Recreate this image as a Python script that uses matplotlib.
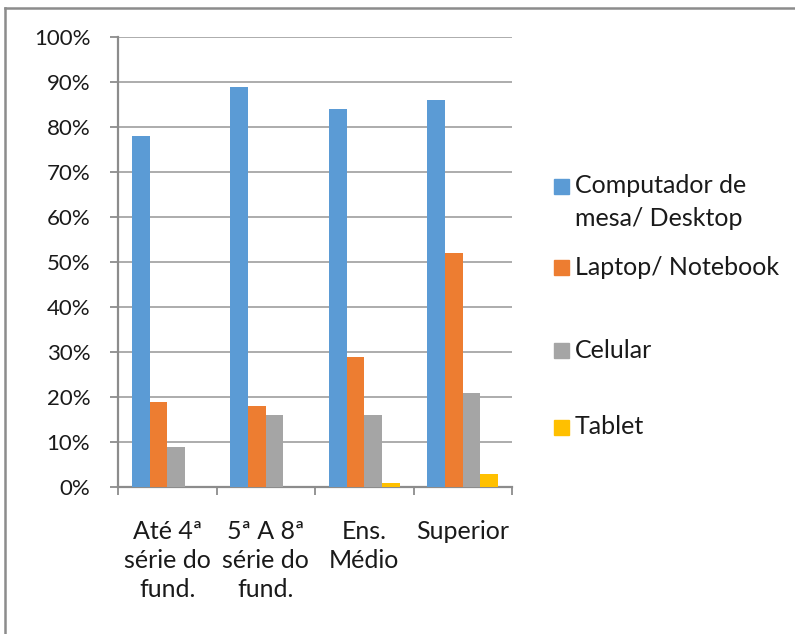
import matplotlib
matplotlib.use("Agg")
import matplotlib.pyplot as plt
from matplotlib.patches import Rectangle
from matplotlib.lines import Line2D
import numpy as np

categories = ["Até 4ª\nsérie do\nfund.", "5ª A 8ª\nsérie do\nfund.", "Ens.\nMédio", "Superior"]
series_names = ["Computador de\nmesa/ Desktop", "Laptop/ Notebook", "Celular", "Tablet"]
desktop = [0.78, 0.89, 0.84, 0.86]
laptop = [0.19, 0.18, 0.29, 0.52]
celular = [0.09, 0.16, 0.16, 0.21]
tablet = [0.00, 0.00, 0.01, 0.03]
yticks = [0.0, 0.1, 0.2, 0.3, 0.4, 0.5, 0.6, 0.7, 0.8, 0.9, 1.0]
ytick_labels = ["0%", "10%", "20%", "30%", "40%", "50%", "60%", "70%", "80%", "90%", "100%"]
colors = ["#5B9BD5", "#ED7D31", "#A5A5A5", "#FFC000"]

plt.rcParams['font.family'] = ['Lato', 'DejaVu Sans']
FS_Y = 16
FS = 18
W, H = 795, 634
fig = plt.figure(figsize=(W / 100, H / 100), dpi=100)
ax = fig.add_axes([118 / W, (H - 487) / H, 394 / W, 450 / H])

data = [desktop, laptop, celular, tablet]
x = np.arange(len(categories)) + 0.5
bw = 0.18
offsets = [-0.27, -0.09, 0.09, 0.27]
for vals, off, c in zip(data, offsets, colors):
    ax.bar(x + off, vals, width=bw, color=c, linewidth=0, zorder=3)

ax.set_xlim(0, len(categories))
ax.set_ylim(0, 1)
ax.set_yticks(yticks)
ax.set_yticklabels(ytick_labels, fontsize=FS_Y, color='#1a1a1a')
ax.yaxis.grid(True, color='#A6A6A6', linewidth=1.3, zorder=0)
ax.set_xticks(np.arange(len(categories) + 1))
ax.set_xticklabels([])
ax.set_xticks(x, minor=True)
ax.set_xticklabels(categories, minor=True, fontsize=FS, color='#1a1a1a', linespacing=1.3, va='top')
ax.tick_params(axis='x', which='minor', length=0, pad=24)
ax.tick_params(axis='x', which='major', length=6, width=1.3, color='#8C8C8C', direction='out')
ax.tick_params(axis='y', length=6, width=1.3, color='#8C8C8C', direction='out', pad=14)
for s in ['top', 'right']:
    ax.spines[s].set_visible(False)
for s in ['left', 'bottom']:
    ax.spines[s].set_color('#8C8C8C')
    ax.spines[s].set_linewidth(1.6)

# Legend (manual, Excel-like)
marker_y = [186, 267, 350, 427]
for name, c, my in zip(series_names, colors, marker_y):
    fig.add_artist(Rectangle((554 / W, (H - my - 7.5) / H), 15 / W, 15 / H,
                             transform=fig.transFigure, color=c))
    lines = name.split("\n")
    for k, ln in enumerate(lines):
        fig.text(575 / W, (H - my - 33 * k) / H, ln, fontsize=FS, color='#1a1a1a',
                 va='center', ha='left')

# Outer border (top and left visible)
fig.add_artist(Line2D([4.5 / W, 4.5 / W], [0, (H - 7.5) / H], transform=fig.transFigure,
                      color='#8C8C8C', linewidth=1.8))
fig.add_artist(Line2D([4.5 / W, 1.0], [(H - 7.5) / H, (H - 7.5) / H], transform=fig.transFigure,
                      color='#8C8C8C', linewidth=1.8))

fig.savefig("out.png", dpi=100, facecolor='white')
